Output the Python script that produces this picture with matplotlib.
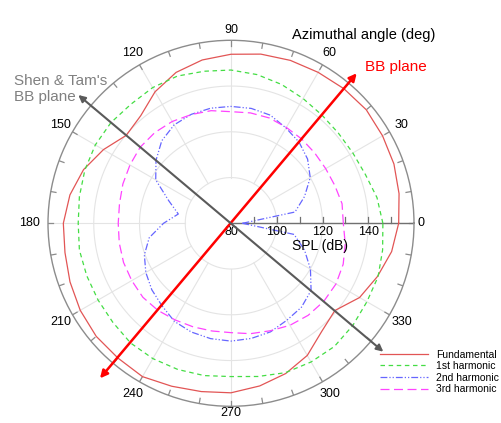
import numpy as np
import matplotlib
matplotlib.use("Agg")
import matplotlib.pyplot as plt

plt.rcParams['font.family'] = ['Liberation Sans', 'DejaVu Sans']

# ---- data (SPL in dB at azimuthal angles, deg) ----
angles_deg = list(range(0, 360, 10))
fundamental = [153.3, 154.6, 155.8, 156.5, 157.2, 156.8, 156.2, 155.8, 155.1, 153.9,
               152.5, 150.2, 146.4, 141.4, 139.8, 144.4, 148.6, 151.5,
               153.3, 153.7, 154.9, 156.1, 156.9, 156.9, 157.4, 155.8, 154.7,
               154.1, 152.2, 149.9, 146.7, 141.7, 139.3, 144.9, 148.1, 151.3]
harmonic1 = [146.4, 144.8, 142.5, 141.5, 141.3, 141.8, 143.0, 144.6, 146.0, 147.0,
             147.5, 148.5, 148.5, 148.0, 148.5, 148.5, 148.0, 147.3,
             146.8, 147.3, 147.1, 147.1, 147.4, 148.3, 148.3, 148.0, 147.6,
             147.0, 148.0, 149.5, 150.0, 150.3, 149.5, 148.6, 148.4, 147.3]
harmonic2 = [85.0, 108.4, 114.2, 120.0, 123.7, 126.3, 128.1, 130.3, 131.0, 131.1,
             131.1, 130.7, 129.7, 127.1, 122.8, 118.0, 109.0, 103.4,
             109.5, 116.3, 120.3, 123.0, 125.2, 127.0, 129.5, 130.6, 131.2,
             131.5, 131.1, 130.5, 128.9, 127.9, 125.7, 120.1, 114.2, 108.0]
harmonic3 = [129.1, 129.3, 128.3, 127.8, 127.8, 128.1, 128.4, 129.0, 129.0, 128.8,
             130.0, 130.6, 131.4, 131.8, 131.8, 131.0, 130.3, 129.5,
             129.3, 129.6, 130.0, 130.1, 130.3, 129.7, 128.8, 128.2, 127.8,
             127.8, 129.0, 130.0, 131.5, 132.5, 133.0, 133.0, 132.2, 130.7]
series_labels = ['Fundamental', '1st harmonic', '2nd harmonic', '3rd harmonic']
r_min, r_max = 80, 160
r_grid = [100, 120, 140]
r_ticklabels = [80, 100, 120, 140]
angle_labels = list(range(0, 360, 30))

# ---- figure ----
W, H = 501, 423
fig = plt.figure(figsize=(W / 100, H / 100), dpi=100)
cx, cy, R = 231, 223.3, 183
rect = [(cx - R) / W, (H - cy - R) / H, 2 * R / W, 2 * R / H]
ax = fig.add_axes(rect, projection='polar')
ax.set_ylim(r_min, r_max)
ax.set_xticks([])
ax.set_yticks([])
ax.grid(False)
ax.spines['polar'].set_color('#8c8c8c')
ax.spines['polar'].set_linewidth(1.0)

grid_c = '#e4e4e4'
tt = np.linspace(0, 2 * np.pi, 361)
for rg in r_grid:
    ax.plot(tt, np.full_like(tt, rg), color=grid_c, lw=0.8, zorder=1)
for a in angle_labels:
    t = np.deg2rad(a)
    ax.plot([t, t], [r_grid[0], r_max], color=grid_c, lw=0.8, zorder=1)
for a in range(0, 360, 10):
    t = np.deg2rad(a)
    ax.plot([t, t], [r_max - 2.3, r_max], color='#8c8c8c', lw=0.9, zorder=2)
ax.plot([0, 0], [r_min, r_max], color='#707070', lw=1.0, zorder=2)

th = np.deg2rad(angles_deg + [angles_deg[0]])
def closed(v):
    return list(v) + [v[0]]

l0, = ax.plot(th, closed(fundamental), color='#e25555', lw=0.9, zorder=3)
l1, = ax.plot(th, closed(harmonic1), color='#44dd44', lw=0.9,
              linestyle=(0, (3.6, 2.9)), zorder=3)
l2, = ax.plot(th, closed(harmonic2), color='#6666ff', lw=0.9,
              linestyle=(0, (5.5, 1.6, 1.0, 1.6, 1.0, 1.6)), zorder=3)
l3, = ax.plot(th, closed(harmonic3), color='#ff44ff', lw=0.9,
              linestyle=(0, (7.2, 3.6)), zorder=3)

# ---- overlay axes in dB-offset units (1 unit = R/80 px) ----
ov = fig.add_axes(rect)
ov.set_xlim(-80, 80)
ov.set_ylim(-80, 80)
ov.axis('off')
ov.patch.set_visible(False)
u = R / 80.0

# radial ticks on 0-deg axis
for rt in range(90, 160, 10):
    ov.plot([rt - r_min, rt - r_min], [0, 6 / u], color='#707070', lw=0.9)
for rt in r_ticklabels:
    ov.text(rt - r_min, -8.5 / u, str(rt), ha='center', va='center', fontsize=9)
ov.text(89 / u, -23 / u, 'SPL (dB)', ha='center', va='center', fontsize=10)

# angle labels
lab_r = {0: 190, 90: 193, 180: 201, 270: 190}
for a in angle_labels:
    d = lab_r.get(a, 197) / u
    t = np.deg2rad(a)
    ov.text(d * np.cos(t), d * np.sin(t), str(a), ha='center', va='center', fontsize=9)

ov.text(60.7 / u, 188.3 / u, 'Azimuthal angle (deg)', ha='left', va='center', fontsize=10.5)

# arrows
ov.annotate('', xy=(125.7 / u, 150 / u), xytext=(-131 / u, -155 / u),
            arrowprops=dict(arrowstyle='<|-|>', color='#ff0000', lw=1.8,
                            mutation_scale=11, shrinkA=0, shrinkB=0))
ov.annotate('', xy=(152.3 / u, -128.4 / u), xytext=(-152.7 / u, 128.3 / u),
            arrowprops=dict(arrowstyle='<|-|>', color='#5a5a5a', lw=1.5,
                            mutation_scale=10, shrinkA=0, shrinkB=0))
ov.text(134 / u, 156.6 / u, 'BB plane', color='#ff0000', ha='left', va='center', fontsize=11)
ov.text(-217 / u, 134.3 / u, "Shen & Tam's\nBB plane", color='#808080',
        ha='left', va='center', fontsize=11)

# legend
leg = ax.legend([l0, l1, l2, l3], series_labels, loc='upper left',
                bbox_to_anchor=(380 / W, 1 - 349.5 / H), bbox_transform=fig.transFigure,
                frameon=False, fontsize=7.5, borderpad=0, borderaxespad=0,
                handlelength=4.6, handletextpad=0.8, labelspacing=0.15)

fig.savefig('out.png', dpi=100)
